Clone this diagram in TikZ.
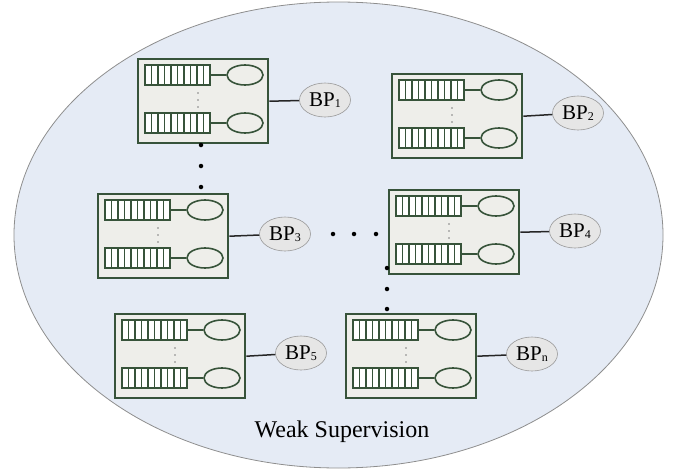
\documentclass[tikz,border=0pt]{standalone}
\usepackage{fontspec}
\setmainfont{Liberation Serif}
\usetikzlibrary{shapes.geometric}
\definecolor{dkgreen}{HTML}{37533A}
\definecolor{boxfill}{HTML}{EEEEEA}
\definecolor{bgblue}{HTML}{E5EBF5}
\definecolor{bgline}{HTML}{8E8E8E}
\definecolor{bpfill}{HTML}{E6E6E6}
\definecolor{bpline}{HTML}{9A9A9A}
\newcommand{\bpsub}[1]{\raisebox{-1.5pt}{\fontsize{12}{12}\selectfont #1}}
\tikzset{
  boxst/.style={draw=dkgreen, fill=boxfill, line width=2.4pt, minimum width=130pt, minimum height=84pt, inner sep=0pt, rectangle},
  qst/.style={draw=dkgreen, line width=1.6pt},
  inell/.style={ellipse, draw=dkgreen, fill=boxfill, line width=1.6pt, minimum width=36pt, minimum height=20pt, inner sep=0pt},
  bpell/.style={ellipse, draw=bpline, fill=bpfill, line width=0.6pt, minimum width=51pt, minimum height=34pt, inner sep=0pt, font=\fontsize{21}{23}\selectfont},
  conn/.style={line width=1.5pt, draw=black!85},
  bigdot/.style={circle, fill=black, inner sep=0pt, minimum size=4.5pt},
  bpbox/.pic={
    \node[boxst, anchor=north west] (-box) at (0,0) {};
    \foreach \r in {7,55} {
      \draw[qst, fill=white] (8,\r) rectangle (73,\r+20);
      \foreach \i in {1,...,9} \draw[qst] (8+6.5*\i,\r) -- ++(0,20);
      \node[inell] (-e\r) at (108,\r+10) {};
      \draw[qst] (73,\r+10) -- (-e\r);
    }
    \foreach \d in {35,42,49} \fill[gray] (61,\d) circle (0.9pt);
  }
}
\begin{document}
\begin{tikzpicture}[x=1pt, y=-1pt]
\useasboundingbox (0,0) rectangle (678,471);
\node[ellipse, draw=bgline, fill=bgblue, line width=0.8pt, minimum width=649pt, minimum height=466pt, inner sep=0pt] (ws) at (338.5,235) {};
\node[font=\fontsize{24}{26}\selectfont] (wslabel) at (342,432) {Weak Supervision};

\pic (b1) at (137,58) {bpbox};
\pic (b2) at (391,73) {bpbox};
\pic (b3) at (97,193) {bpbox};
\pic (b4) at (388,189) {bpbox};
\pic (b5) at (114,313) {bpbox};
\pic (bn) at (345,313) {bpbox};

\node[bpell] (bp1) at (325,100) {BP\bpsub{1}};
\node[bpell] (bp2) at (578,113) {BP\bpsub{2}};
\node[bpell] (bp3) at (285,234) {BP\bpsub{3}};
\node[bpell] (bp4) at (575,231) {BP\bpsub{4}};
\node[bpell] (bp5) at (301,353) {BP\bpsub{5}};
\node[bpell] (bpn) at (532,354) {BP\bpsub{n}};

\draw[conn] (b1-box.east) -- (bp1);
\draw[conn] (b2-box.east) -- (bp2);
\draw[conn] (b3-box.east) -- (bp3);
\draw[conn] (b4-box.east) -- (bp4);
\draw[conn] (b5-box.east) -- (bp5);
\draw[conn] (bn-box.east) -- (bpn);

\node[bigdot] (v1) at (201,145) {};
\node[bigdot] (v2) at (201,166) {};
\node[bigdot] (v3) at (201,187) {};
\node[bigdot] (h1) at (333,234) {};
\node[bigdot] (h2) at (354,234) {};
\node[bigdot] (h3) at (376,234) {};
\node[bigdot] (w1) at (387,268) {};
\node[bigdot] (w2) at (387,289) {};
\node[bigdot] (w3) at (387,309) {};
\end{tikzpicture}
\end{document}
